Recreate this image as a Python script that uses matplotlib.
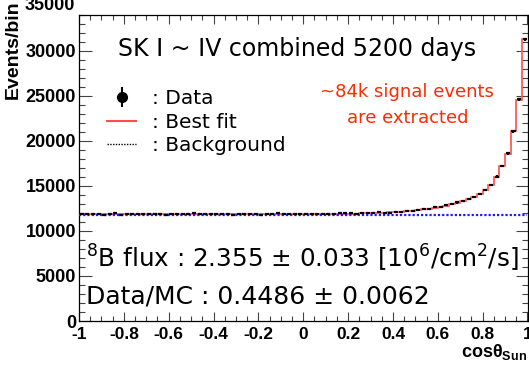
import numpy as np
import matplotlib
matplotlib.use('Agg')
import matplotlib.pyplot as plt
import matplotlib.transforms as mtransforms

plt.rcParams['mathtext.fontset'] = 'custom'
plt.rcParams['mathtext.rm'] = 'DejaVu Sans'
plt.rcParams['mathtext.bf'] = 'Liberation Sans:bold'
plt.rcParams['mathtext.it'] = 'DejaVu Sans:italic'

# ---- datos: 80 bins en cos(theta_sun) de -1 a 1 ----
edges = np.linspace(-1, 1, 81)

data = [11880, 11850, 11900, 11870, 11830, 11880, 12010, 11790, 11860, 11840,
        11880, 11850, 11900, 11870, 11930, 11820, 11880, 11850, 11900, 11930,
        11960, 11910, 11880, 11840, 11870, 11900, 11860, 11810, 11870, 11890,
        11930, 11880, 11830, 11900, 11860, 11950, 11870, 11840, 11900, 11880,
        11850, 11910, 11880, 11930, 11900, 11860, 11950, 12000, 11960, 11910,
        11990, 11960, 12010, 12080, 11990, 12040, 12110, 12070, 12180, 12230,
        12300, 12430, 12470, 12620, 12680, 12850, 12950, 13170, 13300, 13560,
        13800, 14080, 14520, 15130, 16050, 17230, 18620, 21080, 24620, 31290]

best_fit = [11872, 11871, 11870, 11870, 11869, 11869, 11868, 11868, 11868, 11867,
            11867, 11867, 11866, 11866, 11866, 11866, 11866, 11866, 11866, 11866,
            11866, 11866, 11867, 11867, 11867, 11868, 11868, 11869, 11869, 11870,
            11870, 11871, 11872, 11873, 11874, 11875, 11876, 11878, 11880, 11882,
            11885, 11888, 11891, 11895, 11899, 11903, 11908, 11914, 11920, 11930,
            11950, 11970, 11990, 12010, 12040, 12070, 12110, 12160, 12210, 12270,
            12340, 12410, 12490, 12590, 12700, 12820, 12970, 13140, 13330, 13540,
            13780, 14100, 14500, 15150, 16000, 17200, 18600, 21100, 24600, 31300]

background = [11790, 11790, 11789, 11789, 11789, 11788, 11788, 11788, 11787, 11787,
              11787, 11786, 11786, 11786, 11785, 11785, 11785, 11784, 11784, 11784,
              11783, 11783, 11783, 11782, 11782, 11782, 11781, 11781, 11781, 11780,
              11780, 11780, 11779, 11779, 11779, 11778, 11778, 11778, 11777, 11777,
              11777, 11776, 11776, 11776, 11775, 11775, 11775, 11774, 11774, 11774,
              11773, 11773, 11773, 11772, 11772, 11772, 11771, 11771, 11771, 11770,
              11770, 11770, 11769, 11769, 11769, 11768, 11768, 11768, 11767, 11767,
              11767, 11766, 11766, 11766, 11765, 11765, 11765, 11764, 11764, 11764]

x_ticks = [-1, -0.8, -0.6, -0.4, -0.2, 0, 0.2, 0.4, 0.6, 0.8, 1]
x_tick_labels = ['-1', '-0.8', '-0.6', '-0.4', '-0.2', '0', '0.2', '0.4', '0.6', '0.8', '1']
y_ticks = [0, 5000, 10000, 15000, 20000, 25000, 30000]

centers = 0.5 * (edges[:-1] + edges[1:])
data = np.array(data)

fig = plt.figure(figsize=(5.29, 3.69), dpi=100)
ax = fig.add_axes([79 / 529, 48 / 369, 448.5 / 529, 306 / 369])

# ---- histogramas ----
ax.stairs(best_fit, edges, baseline=None, color='#ff4d4d', lw=1.2, zorder=2)
ax.stairs(background, edges, baseline=None, color='#1a1aff', lw=1.6,
          linestyle=(0, (1, 0.9)), zorder=3)
ax.errorbar(centers, data, yerr=np.sqrt(data), xerr=0.009, fmt='none',
            ecolor='black', elinewidth=1.6, capsize=0, zorder=4)

ax.set_xlim(-1, 1)
ax.set_ylim(0, 34000)

# ---- ejes estilo ROOT ----
ax.set_xticks(x_ticks)
ax.set_xticklabels(x_tick_labels)
ax.set_xticks(np.arange(-1, 1.001, 0.05), minor=True)
ax.set_yticks(y_ticks)
ax.set_yticks(np.arange(0, 34001, 1000), minor=True)
ax.tick_params(axis='both', which='both', direction='in', top=True, right=True,
               width=0.8, color='#444444')
ax.tick_params(axis='x', which='major', length=6.5, pad=4)
ax.tick_params(axis='x', which='minor', length=3.5)
ax.tick_params(axis='y', which='major', length=9, pad=2)
ax.tick_params(axis='y', which='minor', length=4.5)
for lab in ax.get_xticklabels():
    lab.set_fontfamily('Liberation Sans')
    lab.set_fontweight('bold')
    lab.set_fontsize(12.5)
for lab in ax.get_yticklabels():
    lab.set_fontfamily('Liberation Sans')
    lab.set_fontweight('bold')
    lab.set_fontsize(13)
for s in ax.spines.values():
    s.set_linewidth(0.9)

# etiqueta 35000 por encima del marco
trans = mtransforms.blended_transform_factory(ax.transAxes, ax.transData)
ax.text(-0.009, 35000, '35000', transform=trans, ha='right', va='center',
        fontfamily='Liberation Sans', fontweight='bold', fontsize=13, clip_on=False)

fig.text(0.025, 1.0, 'Events/bin', rotation=90, ha='center', va='top',
         fontfamily='Liberation Sans', fontweight='bold', fontsize=14)
ax.text(1.0, -0.068, r'cos$\mathregular{\theta}_{\mathbf{Sun}}$', transform=ax.transAxes,
        ha='right', va='top', fontfamily='Liberation Sans', fontweight='bold', fontsize=13)

# ---- textos ----
tfont = 'DejaVu Sans'
ax.text(0.486, 0.889, 'SK I ~ IV combined 5200 days', transform=ax.transAxes,
        ha='center', va='center', fontfamily=tfont, fontsize=17)
ax.text(0.732, 0.748, '~84k signal events', transform=ax.transAxes,
        ha='center', va='center', fontfamily=tfont, fontsize=13, color='#ff2a00')
ax.text(0.732, 0.663, 'are extracted', transform=ax.transAxes,
        ha='center', va='center', fontfamily=tfont, fontsize=13, color='#ff2a00')
ax.text(0.016, 0.205, r'$^{8}$B flux : 2.355 ± 0.033 [10$^{6}$/cm$^{2}$/s]',
        transform=ax.transAxes, ha='left', va='center', fontfamily=tfont, fontsize=17.7)
ax.text(0.016, 0.08, 'Data/MC : 0.4486 ± 0.0062', transform=ax.transAxes,
        ha='left', va='center', fontfamily=tfont, fontsize=18)

# ---- leyenda ----
h_data = ax.errorbar([], [], yerr=[], fmt='o', ms=7, color='black', elinewidth=1.5,
                     label=': Data')
h_fit, = ax.plot([], [], color='#ff4d4d', lw=1.5, label=': Best fit')
h_bg, = ax.plot([], [], color='black', lw=1.0, linestyle=(0, (1, 1)),
                label=': Background')
leg = ax.legend(handles=[h_data, h_fit, h_bg], loc='upper left',
                bbox_to_anchor=(0.04, 0.79), frameon=False, borderpad=0,
                handlelength=1.45, handletextpad=0.8, labelspacing=0.22,
                prop={'family': tfont, 'size': 14.5})

fig.savefig('out.png', dpi=100)
